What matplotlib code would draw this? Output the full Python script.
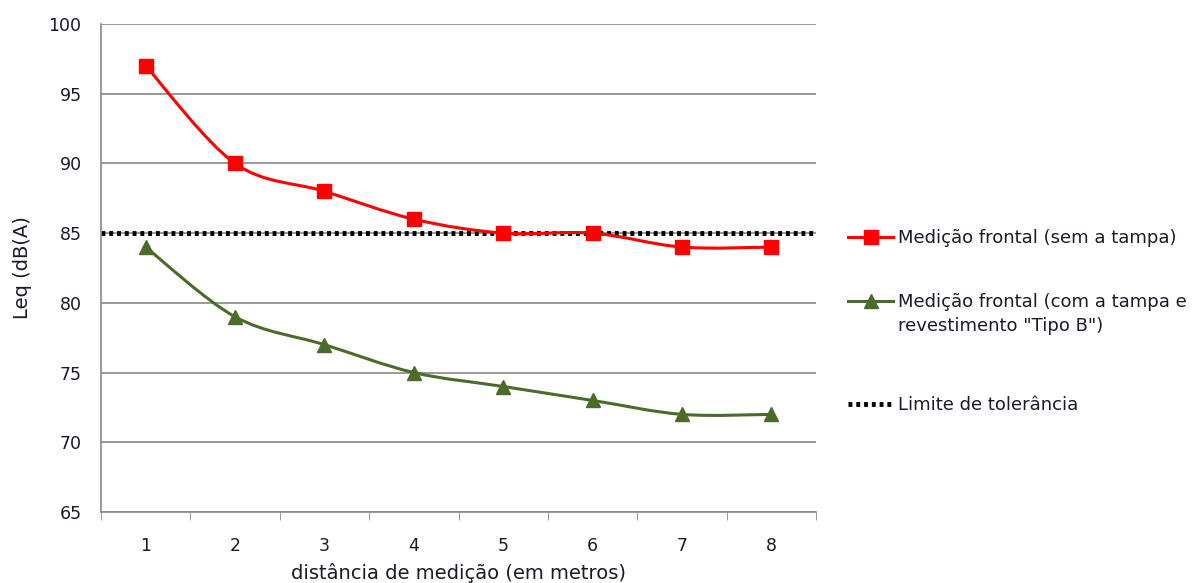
import numpy as np
import matplotlib
matplotlib.use("Agg")
import matplotlib.pyplot as plt
from matplotlib.path import Path
from matplotlib.patches import PathPatch
from matplotlib.lines import Line2D

distancia = [1, 2, 3, 4, 5, 6, 7, 8]
sem_tampa = [97, 90, 88, 86, 85, 85, 84, 84]
com_tampa = [84, 79, 77, 75, 74, 73, 72, 72]
limite = 85

red = "#ff0000"
green = "#4a6b2a"
txt = "#1a1a2a"


def smooth_path(x, y):
    # excel-like smoothed line: cubic bezier segments through the points
    x = np.asarray(x, float)
    y = np.asarray(y, float)
    verts = [(x[0], y[0])]
    codes = [Path.MOVETO]
    n = len(x)
    for i in range(n - 1):
        p0 = i - 1 if i > 0 else i
        p3 = i + 2 if i + 2 < n else i + 1
        c1 = (x[i] + (x[i + 1] - x[p0]) / 6, y[i] + (y[i + 1] - y[p0]) / 6)
        c2 = (x[i + 1] - (x[p3] - x[i]) / 6, y[i + 1] - (y[p3] - y[i]) / 6)
        verts += [c1, c2, (x[i + 1], y[i + 1])]
        codes += [Path.CURVE4] * 3
    return Path(verts, codes)


fig = plt.figure(figsize=(11.95, 5.83), dpi=100)
ax = fig.add_axes([0.0845, 0.1218, 0.5985, 0.837])

ax.add_patch(PathPatch(smooth_path(distancia, sem_tampa), fill=False,
                       edgecolor=red, lw=2.2, zorder=3))
ax.add_patch(PathPatch(smooth_path(distancia, com_tampa), fill=False,
                       edgecolor=green, lw=2.2, zorder=3))
ax.plot(distancia, sem_tampa, ls="none", marker="s", ms=10, color=red, zorder=4)
ax.plot(distancia, com_tampa, ls="none", marker="^", ms=10, color=green, zorder=4)
ax.axhline(limite, color="black", lw=3.5, ls=(0, (0.8, 0.8)), zorder=2)

ax.set_xlim(0.5, 8.5)
ax.set_ylim(65, 100)
ax.set_yticks(range(65, 101, 5))
ax.set_xticks(distancia)
ax.set_xticks(np.arange(0.5, 8.6, 1), minor=True)
ax.tick_params(axis="x", which="major", length=0, pad=18, labelsize=12.5, colors=txt)
ax.tick_params(axis="x", which="minor", length=6, color="#888888", direction="out")
ax.tick_params(axis="y", length=0, pad=14, labelsize=12.5, colors=txt)
ax.grid(axis="y", color="#888888", lw=1.2)
ax.set_axisbelow(True)
for s in ["top", "right"]:
    ax.spines[s].set_visible(False)
for s in ["left", "bottom"]:
    ax.spines[s].set_color("#888888")
    ax.spines[s].set_linewidth(1.2)

ax.set_xlabel("distância de medição (em metros)", fontsize=14, color=txt, labelpad=6)
ax.set_ylabel("Leq (dB(A)", fontsize=14, color=txt, labelpad=12)

entries = [
    (Line2D([], [], color=red, lw=2.2, marker="s", ms=10),
     "Medição frontal (sem a tampa)", 0.5915),
    (Line2D([], [], color=green, lw=2.2, marker="^", ms=10),
     "Medição frontal (com a tampa e", 0.482),
    (Line2D([], [], color="black", lw=3.5, ls=(0, (0.8, 0.8))),
     "Limite de tolerância", 0.3053),
]
for h, lab, yy in entries:
    fig.legend([h], [lab], loc="center left", bbox_to_anchor=(0.7096, yy),
               frameon=False, fontsize=13, handlelength=2.5, handletextpad=0.28,
               borderpad=0, borderaxespad=0, labelcolor=txt)
fig.text(0.7515, 0.4408, "revestimento \"Tipo B\")", fontsize=13, color=txt,
         va="center", ha="left")

fig.savefig("out.png", dpi=100)
